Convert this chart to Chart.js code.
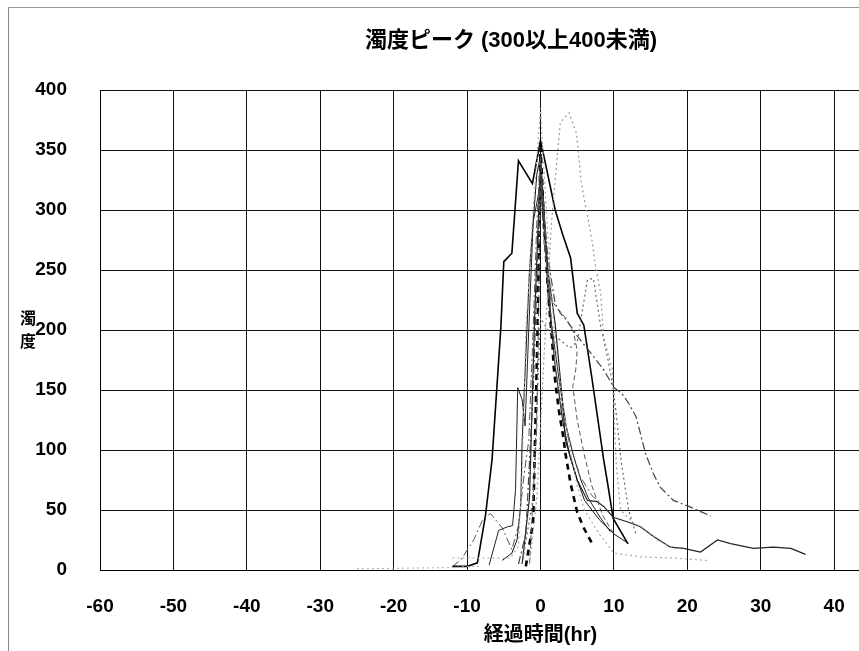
<!DOCTYPE html>
<html>
<head>
<meta charset="utf-8">
<script src="https://cdn.jsdelivr.net/npm/chart.js@4.4.1/dist/chart.umd.min.js"></script>
<style>
  html, body { margin: 0; padding: 0; background: #fff; overflow: hidden; }
  #frame { position: absolute; left: 8px; top: 7px; width: 1000px; height: 800px;
           border-left: 1px solid #888; border-top: 1px solid #999; }
  #wrap { position: absolute; left: 0; top: 0; width: 1058px; height: 651px; }
  #title { position: absolute; left: 0; top: 27px; width: 1022px; text-align: center;
           font: bold 22px 'Liberation Sans', 'Noto Sans CJK JP', sans-serif; line-height: 26px; color: #000; }
  #ytitle { position: absolute; left: 19px; top: 306px; width: 18px; text-align: center;
            font: bold 16px 'Noto Sans CJK JP', sans-serif; line-height: 23px; color: #000; }
</style>
</head>
<body>
<div id="frame"></div>
<div id="wrap"><canvas id="chart"></canvas></div>
<div id="title">濁度ピーク (300以上400未満)</div>
<div id="ytitle">濁<br>度</div>
<script>
// turbidity events, time relative to the peak (hr) and turbidity values
const xTicksMin = -60, xTicksMax = 60, xStep = 10;
const yTicksMin = 0, yTicksMax = 400, yStep = 50;

const hrA = [-12, -10, -8.6, -7.5, -6.6, -5.4, -5.0, -3.9, -3.0, -1.1, 0, 0.7, 2.0, 3.0, 4.1, 5.0, 5.9, 7.0, 8.6, 9.2, 9.9, 11.9];
const turbA = [3, 3, 6, 45, 92, 202, 257, 264, 341, 322, 358, 338, 300, 280, 260, 214, 204, 160, 92, 70, 43, 22];

const hrB = [-2, -1, -0.4, 0, 0.2, 0.4, 0.7, 0.9, 1.3, 1.6, 1.8, 2.0, 2.5, 3.1, 3.4, 4.1, 5.0, 5.9, 7.2];
const turbB = [3, 40, 200, 352, 328, 297, 269, 245, 211, 190, 169, 158, 133, 111, 97, 72, 48, 35, 20];

const hrC = [-2.5, -1.5, -0.8, 0, 0.5, 1, 2, 3, 3.4, 5, 6.4, 7.7, 8.6, 9.9, 11.9, 13.6, 15.4, 17.7, 19.5, 21.8, 24.1, 25.9, 29, 31.7, 34.1, 36.1];
const turbC = [5, 60, 210, 340, 290, 250, 205, 140, 108, 75, 58, 57, 53, 44, 40, 36, 28, 19, 18, 15, 25, 22, 18, 19, 18, 13];

const hrD = [-1.5, -0.5, 0.5, 1.5, 2.7, 3.9, 4.9, 5.3, 5.5, 5.9, 6.5, 7.0, 7.5, 8.2, 8.6, 9.8, 10.0, 10.3, 10.9, 12.7, 14.0, 15.9, 18.1, 19.0];
const turbD = [5, 60, 180, 290, 373, 381, 364, 339, 325, 311, 292, 275, 253, 231, 194, 167, 133, 90, 50, 39, 35, 25, 18, 18];

const hrE = [-12, -4.1, -3, -2.5, -2, -1, 0, 0.5, 1, 1.5, 2, 3, 4, 5, 6, 8, 10, 13.6, 18, 22.7];
const turbE = [10, 10, 20, 80, 200, 300, 385, 330, 280, 230, 190, 140, 100, 70, 50, 30, 14, 11, 10, 8];

const hrF = [-3, -2, -1, 0, 1, 2, 2.7, 3.6, 5, 7.2, 8.6, 10, 11.1, 12, 13, 13.6, 14.3, 15.4, 16.3, 18.1, 20.2, 23.2];
const turbF = [5, 30, 150, 330, 260, 222, 214, 208, 195, 178, 167, 152, 147, 139, 128, 114, 97, 80, 69, 58, 53, 45];

const hrG = [-2.5, -1, 0, 1, 2, 3, 4, 5, 6.4, 7.2, 8.2, 9.2, 9.9, 10.5, 11, 12, 13];
const turbG = [5, 60, 210, 200, 195, 190, 185, 190, 242, 243, 203, 175, 152, 120, 90, 50, 30];

const hrH = [-1.5, -0.5, 0, 0.5, 1.4, 3.4, 4.5, 5.0, 4.8, 4.4, 5, 6, 7, 8.5, 10];
const turbH = [5, 120, 320, 270, 225, 210, 198, 183, 167, 153, 125, 95, 70, 45, 30];

const hrI = [-12, -10.9, -9.1, -7.8, -6.8, -5.2, -3.9, -3.0, -2.2, -1.6, -1, -0.5, 0, 0.6, 1.2, 2, 3, 4, 5.4, 7, 8];
const turbI = [3, 8, 25, 43, 47, 35, 17, 37, 81, 108, 200, 290, 345, 280, 220, 170, 130, 105, 78, 62, 57];

const hrJ = [-7, -5.7, -4.5, -3.8, -3.4, -3.1, -2.5, -2.1, -1.6, -1, 0, 0.8, 1.5, 2.5, 3.5, 4.5, 5.5, 6.5, 8, 9.5];
const turbJ = [4, 33, 36, 37, 67, 152, 142, 120, 200, 290, 322, 260, 205, 160, 120, 95, 75, 60, 45, 32];

const hrK = [-5.2, -3.9, -3.2, -2.7, -2.5, -1.5, -0.5, 0, 0.5, 1, 2, 3, 4, 5, 6, 8, 10, 12];
const turbK = [8, 14, 25, 53, 108, 250, 330, 345, 300, 230, 170, 125, 95, 75, 58, 42, 30, 22];

const hrL = [-25, -12, -10, -8];
const turbL = [1, 2, 3, 3];

function pts(xs, ys) {
    return xs.map((x, i) => ({ x: x, y: ys[i] }));
}

function series(xs, ys, color, width, dash) {
    return {
        data: pts(xs, ys),
        borderColor: color,
        borderWidth: width,
        borderDash: dash,
        pointRadius: 0,
        tension: 0,
        fill: false
    };
}

const tickFont = { family: "'Liberation Sans', sans-serif", size: 19, weight: 'bold' };

const ctx = document.getElementById('chart').getContext('2d');
const chart = new Chart(ctx, {
    type: 'line',
    data: {
        datasets: [
            series(hrL, turbL, '#aaa', 1, [2, 3]),
            series(hrE, turbE, '#aaa', 1.2, [2, 3]),
            series(hrD, turbD, '#999', 1.2, [2, 3]),
            series(hrG, turbG, '#666', 1.2, [2, 3]),
            series(hrH, turbH, '#555', 1, [5, 3]),
            series(hrI, turbI, '#555', 1, [8, 3, 2, 3]),
            series(hrF, turbF, '#444', 1.2, [8, 3, 2, 3]),
            series(hrJ, turbJ, '#222', 1, []),
            series(hrK, turbK, '#111', 1, []),
            series(hrC, turbC, '#222', 1.2, []),
            series(hrA, turbA, '#000', 1.6, []),
            series(hrB, turbB, '#000', 2.6, [6, 5])
        ]
    },
    options: {
        responsive: true,
        maintainAspectRatio: false,
        animation: false,
        layout: { padding: { left: 0, right: 77, top: 90, bottom: 0 } },
        plugins: {
            legend: { display: false },
            tooltip: { enabled: false }
        },
        scales: {
            x: {
                type: 'linear',
                min: xTicksMin,
                max: xTicksMax,
                ticks: { stepSize: xStep, color: '#000', font: tickFont, padding: 25 },
                grid: { color: '#111', lineWidth: 1, drawTicks: false },
                border: { color: '#000', width: 1 },
                title: {
                    display: true,
                    text: '経過時間(hr)',
                    color: '#000',
                    font: { family: "'Liberation Sans', 'Noto Sans CJK JP', sans-serif", size: 20, weight: 'bold' },
                    padding: { top: 2, bottom: 4 }
                },
                afterFit: s => { s.height = 81; }
            },
            y: {
                min: yTicksMin,
                max: yTicksMax,
                ticks: { stepSize: yStep, color: '#000', font: tickFont, padding: 33 },
                grid: { color: '#111', lineWidth: 1, drawTicks: false },
                border: { color: '#000', width: 1 },
                afterFit: s => { s.width = 100; }
            }
        }
    }
});
</script>
</body>
</html>
